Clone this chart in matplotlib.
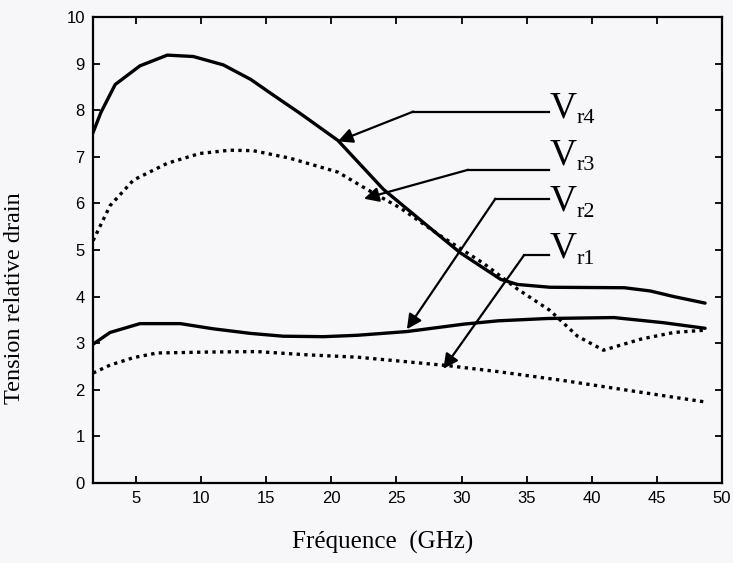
import numpy as np
import matplotlib.pyplot as plt

# Vr4 : courbe pleine du haut
f_r4 = [1.6, 2.3, 3.4, 5.3, 7.4, 9.4, 11.7, 13.8, 15.5, 17.6, 20.5, 24.0, 27.8, 29.9, 33.0, 34.3, 36.8, 42.5, 44.5, 46.3, 48.7]
v_r4 = [7.45, 7.95, 8.55, 8.95, 9.18, 9.15, 8.97, 8.66, 8.33, 7.93, 7.35, 6.30, 5.42, 4.94, 4.37, 4.26, 4.20, 4.19, 4.12, 4.00, 3.86]

# Vr3 : pointillés du haut
f_r3 = [1.7, 3.0, 4.8, 7.4, 9.9, 12.2, 14.0, 16.8, 20.5, 22.8, 25.3, 28.4, 31.7, 34.3, 36.8, 38.9, 40.9, 43.8, 46.3, 48.7]
v_r3 = [5.2, 5.95, 6.5, 6.86, 7.07, 7.14, 7.13, 6.97, 6.67, 6.29, 5.90, 5.30, 4.71, 4.16, 3.70, 3.15, 2.85, 3.09, 3.23, 3.28]

# Vr2 : courbe pleine du bas
f_r2 = [1.6, 3.0, 5.3, 8.4, 10.9, 13.8, 16.3, 19.4, 22.0, 25.8, 30.2, 32.8, 36.6, 41.7, 45.5, 48.7]
v_r2 = [2.96, 3.23, 3.42, 3.42, 3.31, 3.21, 3.15, 3.14, 3.17, 3.25, 3.41, 3.48, 3.53, 3.55, 3.44, 3.32]

# Vr1 : pointillés du bas
f_r1 = [1.7, 3.0, 4.8, 6.6, 10.5, 14.3, 18.2, 22.0, 25.1, 28.9, 32.8, 37.8, 43.0, 48.7]
v_r1 = [2.36, 2.53, 2.69, 2.79, 2.81, 2.82, 2.75, 2.70, 2.62, 2.52, 2.39, 2.20, 1.98, 1.74]

x_ticks = [5, 10, 15, 20, 25, 30, 35, 40, 45, 50]
y_ticks = [0, 1, 2, 3, 4, 5, 6, 7, 8, 9, 10]

# étiquettes : indice, position du texte, coude du trait, pointe de la flèche
subs = ['r4', 'r3', 'r2', 'r1']
text_y = [7.85, 6.84, 5.85, 4.84]
line_y = [7.97, 6.72, 6.10, 4.89]
bend_x = [26.3, 30.5, 32.6, 34.8]
tip_xy = [(20.5, 7.33), (22.5, 6.1), (25.8, 3.3), (28.6, 2.45)]

bg = '#f7f7f9'
fig = plt.figure(figsize=(7.33, 5.63), dpi=100, facecolor=bg)
ax = fig.add_axes([0.127, 0.142, 0.858, 0.828], facecolor=bg)

lw = 2.4
dots = (0, (1, 1.3))
ax.plot(f_r4, v_r4, color='black', lw=lw, solid_capstyle='round', solid_joinstyle='round')
ax.plot(f_r3, v_r3, color='black', lw=lw, linestyle=dots)
ax.plot(f_r2, v_r2, color='black', lw=lw, solid_capstyle='round', solid_joinstyle='round')
ax.plot(f_r1, v_r1, color='black', lw=lw, linestyle=dots)

serif = 'Liberation Serif'
for sub, ty, ly, bx, tip in zip(subs, text_y, line_y, bend_x, tip_xy):
    ax.plot([36.7, bx], [ly, ly], color='black', lw=1.6)
    ax.annotate('', xy=tip, xytext=(bx, ly),
                arrowprops=dict(arrowstyle='-|>', color='black', lw=1.6,
                                mutation_scale=22, shrinkA=0, shrinkB=0))
    ax.text(36.75, ty, 'V', fontsize=27, va='baseline', ha='left', family=serif)
    ax.annotate(sub, xy=(36.75, ty), xytext=(19.5, -4.5), textcoords='offset points',
                fontsize=16, va='baseline', ha='left', family=serif)

ax.set_xlim(1.7, 50)
ax.set_ylim(0, 10)
ax.set_xticks(x_ticks)
ax.set_yticks(y_ticks)
ax.tick_params(direction='in', length=5, width=1.3, top=True, right=True,
               labelsize=12, pad=6)
for t in ax.get_xticklabels() + ax.get_yticklabels():
    t.set_fontfamily('Liberation Sans')
for s in ax.spines.values():
    s.set_linewidth(1.6)

ax.set_xlabel('Fréquence  (GHz)', fontsize=18, family=serif)
ax.set_ylabel('Tension relative drain', fontsize=17.5, family=serif)
ax.xaxis.set_label_coords(0.461, -0.102)
ax.yaxis.set_label_coords(-0.108, 0.397)

fig.savefig('out.png', dpi=100, facecolor=bg)
